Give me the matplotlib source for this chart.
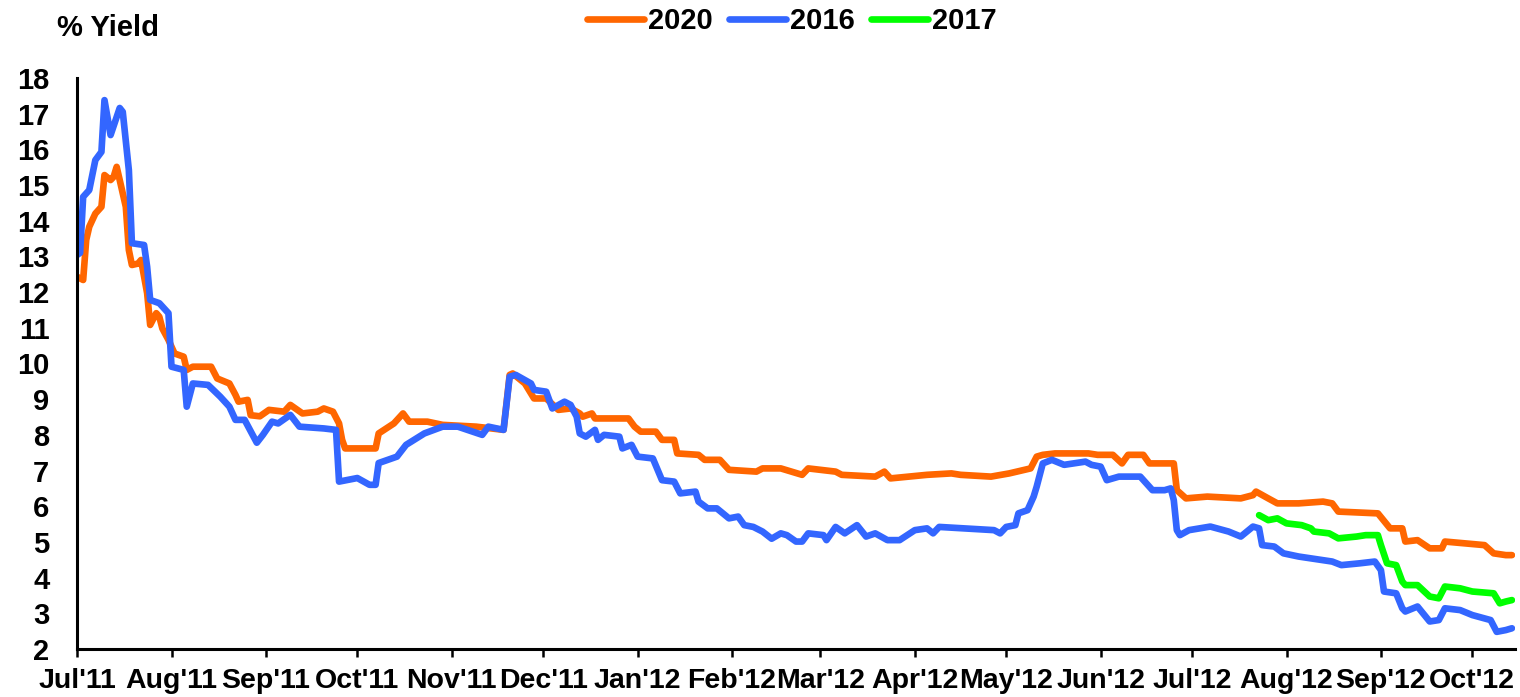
import matplotlib
matplotlib.use("Agg")
import matplotlib.pyplot as plt
import pandas as pd

plt.rcParams['font.family'] = ['Liberation Sans', 'DejaVu Sans']
plt.rcParams['font.weight'] = 'bold'

# ---- data ----
dates_2020 = ["2011-07-01","2011-07-03","2011-07-04","2011-07-05","2011-07-07","2011-07-09","2011-07-10",
    "2011-07-12","2011-07-13","2011-07-14","2011-07-15","2011-07-17","2011-07-18","2011-07-19","2011-07-21",
    "2011-07-22","2011-07-24","2011-07-25","2011-07-27","2011-07-28","2011-07-29","2011-07-31","2011-08-02",
    "2011-08-05","2011-08-06","2011-08-08","2011-08-14","2011-08-16","2011-08-20","2011-08-22","2011-08-23",
    "2011-08-26","2011-08-27","2011-08-30","2011-09-02","2011-09-07","2011-09-09","2011-09-13","2011-09-18",
    "2011-09-20","2011-09-23","2011-09-25","2011-09-26","2011-09-27","2011-10-07","2011-10-08","2011-10-13",
    "2011-10-16","2011-10-18","2011-10-24","2011-10-29","2011-11-09","2011-11-18","2011-11-20","2011-11-21",
    "2011-11-25","2011-11-28","2011-12-02","2011-12-06","2011-12-10","2011-12-13","2011-12-14","2011-12-17",
    "2011-12-18","2011-12-29","2011-12-31","2012-01-02","2012-01-07","2012-01-09","2012-01-13","2012-01-14",
    "2012-01-21","2012-01-23","2012-01-28","2012-01-31","2012-02-09","2012-02-11","2012-02-17","2012-02-24",
    "2012-02-26","2012-03-06","2012-03-08","2012-03-19","2012-03-22","2012-03-24","2012-04-05","2012-04-13",
    "2012-04-16","2012-04-26","2012-05-02","2012-05-09","2012-05-11","2012-05-13","2012-05-17","2012-05-28",
    "2012-05-31","2012-06-05","2012-06-08","2012-06-10","2012-06-15","2012-06-17","2012-06-25","2012-06-26",
    "2012-06-29","2012-07-06","2012-07-17","2012-07-21","2012-07-22","2012-07-26","2012-07-29","2012-08-05",
    "2012-08-13","2012-08-16","2012-08-18","2012-08-31","2012-09-04","2012-09-08","2012-09-09","2012-09-13",
    "2012-09-17","2012-09-21","2012-09-22","2012-10-05","2012-10-08","2012-10-12","2012-10-14"]
yield_2020 = [12.43,12.34,13.46,13.83,14.2,14.39,15.28,
    15.14,15.23,15.51,15.14,14.39,13.18,12.76,12.8,
    12.9,11.97,11.08,11.41,11.31,10.98,10.66,10.28,
    10.19,9.82,9.91,9.91,9.58,9.44,9.12,8.93,
    8.98,8.55,8.52,8.7,8.65,8.84,8.6,8.65,
    8.74,8.65,8.32,7.86,7.62,7.62,8.04,8.32,
    8.6,8.37,8.37,8.28,8.23,8.14,9.68,9.72,
    9.44,9.02,9.02,8.70,8.74,8.6,8.51,8.6,
    8.46,8.46,8.23,8.09,8.09,7.86,7.86,7.48,
    7.44,7.30,7.30,7.02,6.97,7.06,7.06,6.88,
    7.06,6.97,6.88,6.83,6.97,6.78,6.88,6.92,
    6.88,6.83,6.92,7.06,7.39,7.44,7.48,7.48,
    7.44,7.44,7.20,7.44,7.44,7.20,7.20,6.45,
    6.22,6.27,6.22,6.31,6.41,6.22,6.08,6.08,
    6.13,6.08,5.85,5.80,5.38,5.38,5.01,5.05,
    4.82,4.82,5.01,4.91,4.68,4.63,4.63]

dates_2016 = ["2011-07-01","2011-07-02","2011-07-03","2011-07-05","2011-07-07","2011-07-09","2011-07-10",
    "2011-07-12","2011-07-15","2011-07-16","2011-07-18","2011-07-19","2011-07-23","2011-07-24","2011-07-25",
    "2011-07-28","2011-07-31","2011-08-01","2011-08-05","2011-08-06","2011-08-08","2011-08-13","2011-08-17",
    "2011-08-20","2011-08-22","2011-08-25","2011-08-29","2011-08-31","2011-09-03","2011-09-05","2011-09-09",
    "2011-09-12","2011-09-20","2011-09-24","2011-09-25","2011-10-01","2011-10-05","2011-10-07","2011-10-08",
    "2011-10-14","2011-10-17","2011-10-23","2011-10-29","2011-11-03","2011-11-11","2011-11-13","2011-11-18",
    "2011-11-20","2011-11-22","2011-11-27","2011-11-28","2011-12-02","2011-12-04","2011-12-08","2011-12-10",
    "2011-12-12","2011-12-13","2011-12-15","2011-12-18","2011-12-19","2011-12-21","2011-12-26","2011-12-27",
    "2011-12-30","2012-01-01","2012-01-06","2012-01-09","2012-01-13","2012-01-15","2012-01-20","2012-01-21",
    "2012-01-24","2012-01-27","2012-01-31","2012-02-03","2012-02-05","2012-02-08","2012-02-11","2012-02-14",
    "2012-02-17","2012-02-19","2012-02-22","2012-02-24","2012-02-26","2012-03-02","2012-03-03","2012-03-06",
    "2012-03-09","2012-03-13","2012-03-16","2012-03-19","2012-03-23","2012-03-27","2012-04-01","2012-04-05",
    "2012-04-07","2012-04-09","2012-04-17","2012-04-27","2012-04-29","2012-05-01","2012-05-04","2012-05-05",
    "2012-05-08","2012-05-10","2012-05-11","2012-05-13","2012-05-16","2012-05-20","2012-05-27","2012-05-29",
    "2012-06-01","2012-06-03","2012-06-07","2012-06-14","2012-06-16","2012-06-18","2012-06-22","2012-06-24",
    "2012-06-25","2012-06-26","2012-06-27","2012-06-30","2012-07-07","2012-07-13","2012-07-17","2012-07-21",
    "2012-07-23","2012-07-24","2012-07-28","2012-07-31","2012-08-05","2012-08-13","2012-08-16","2012-08-19",
    "2012-08-25","2012-08-30","2012-09-01","2012-09-02","2012-09-06","2012-09-08","2012-09-09","2012-09-13",
    "2012-09-17","2012-09-20","2012-09-22","2012-09-27","2012-10-01","2012-10-07","2012-10-09","2012-10-12",
    "2012-10-14"]
yield_2016 = [13.04,13.1,14.67,14.86,15.7,15.93,17.38,
    16.4,17.16,17.05,15.42,13.37,13.32,12.71,11.78,
    11.69,11.41,9.91,9.82,8.79,9.44,9.40,9.07,
    8.79,8.42,8.42,7.78,8.0,8.37,8.32,8.56,
    8.23,8.18,8.14,6.69,6.79,6.6,6.6,7.21,
    7.39,7.72,8.04,8.23,8.23,8.0,8.23,8.14,
    9.63,9.68,9.44,9.26,9.21,8.74,8.93,8.84,
    8.51,8.04,7.95,8.14,7.86,8.0,7.95,7.62,
    7.72,7.39,7.34,6.73,6.69,6.36,6.41,6.13,
    5.94,5.94,5.66,5.71,5.47,5.42,5.29,5.09,
    5.24,5.19,5.01,5.01,5.24,5.19,5.05,5.42,
    5.24,5.47,5.15,5.24,5.05,5.05,5.33,5.38,
    5.24,5.42,5.38,5.33,5.24,5.42,5.47,5.80,
    5.89,6.27,6.55,7.20,7.30,7.16,7.25,7.16,
    7.11,6.73,6.83,6.83,6.64,6.45,6.45,6.50,
    6.17,5.33,5.19,5.33,5.43,5.29,5.15,5.43,
    5.38,4.91,4.87,4.68,4.59,4.49,4.45,4.35,
    4.40,4.45,4.21,3.61,3.56,3.14,3.05,3.19,
    2.77,2.81,3.14,3.09,2.95,2.81,2.48,2.53,
    2.58]

dates_2017 = ["2012-07-23","2012-07-26","2012-07-29","2012-08-01","2012-08-06","2012-08-09","2012-08-10",
    "2012-08-15","2012-08-18","2012-08-24","2012-08-27","2012-08-31","2012-09-01","2012-09-03","2012-09-06",
    "2012-09-08","2012-09-09","2012-09-13","2012-09-17","2012-09-20","2012-09-22","2012-09-27","2012-10-01",
    "2012-10-08","2012-10-10","2012-10-12","2012-10-14"]
yield_2017 = [5.75,5.61,5.66,5.52,5.47,5.38,5.29,
    5.24,5.10,5.15,5.19,5.19,4.91,4.40,4.35,
    3.89,3.79,3.79,3.47,3.42,3.75,3.70,3.61,
    3.56,3.28,3.33,3.37]

series_names = ["2020", "2016", "2017"]
series_colors = ["#FF6600", "#3366FF", "#00FF00"]
tick_months = pd.date_range("2011-07-01", "2012-10-01", freq="MS")
tick_labels = [d.strftime("%b'%y") for d in tick_months]
y_ticks = list(range(2, 19))

# ---- figure ----
fig = plt.figure(figsize=(15.2, 6.97), dpi=100)
ax = fig.add_axes([0.0507, 0.0689, 0.9460, 0.8192])

for dts, vals, name, col in zip([dates_2020, dates_2016, dates_2017],
                                [yield_2020, yield_2016, yield_2017],
                                series_names, series_colors):
    ax.plot(pd.to_datetime(dts), vals, color=col, lw=4.8, label=name,
            solid_joinstyle='round', solid_capstyle='round')

ax.set_xlim(pd.Timestamp("2011-07-01"), pd.Timestamp("2012-10-15"))
ax.set_ylim(2, 18)
ax.set_yticks(y_ticks)
ax.set_yticklabels([str(v) for v in y_ticks])
ax.set_xticks(tick_months)
ax.set_xticklabels(tick_labels)

for s in ['top', 'right']:
    ax.spines[s].set_visible(False)
for s in ['left', 'bottom']:
    ax.spines[s].set_linewidth(2.2)
    ax.spines[s].set_color('black')

ax.tick_params(axis='y', length=0, pad=20, labelsize=21)
ax.tick_params(axis='x', direction='out', length=6, width=1.8, pad=8, labelsize=20.5)
for lab in ax.get_xticklabels() + ax.get_yticklabels():
    lab.set_fontweight('bold')

fig.text(108 / 1520, 1 - 28 / 697, "% Yield", ha='center', va='center',
         fontsize=21, fontweight='bold')

leg = fig.legend(loc='center', bbox_to_anchor=(792 / 1520, 1 - 21 / 697), ncol=3,
                 frameon=False, fontsize=21, handlelength=1.95, handletextpad=0.15,
                 columnspacing=0.55, borderpad=0)
for t in leg.get_texts():
    t.set_fontweight('bold')
for h in leg.get_lines():
    h.set_linewidth(4.8)

fig.savefig("out.png", dpi=100)
